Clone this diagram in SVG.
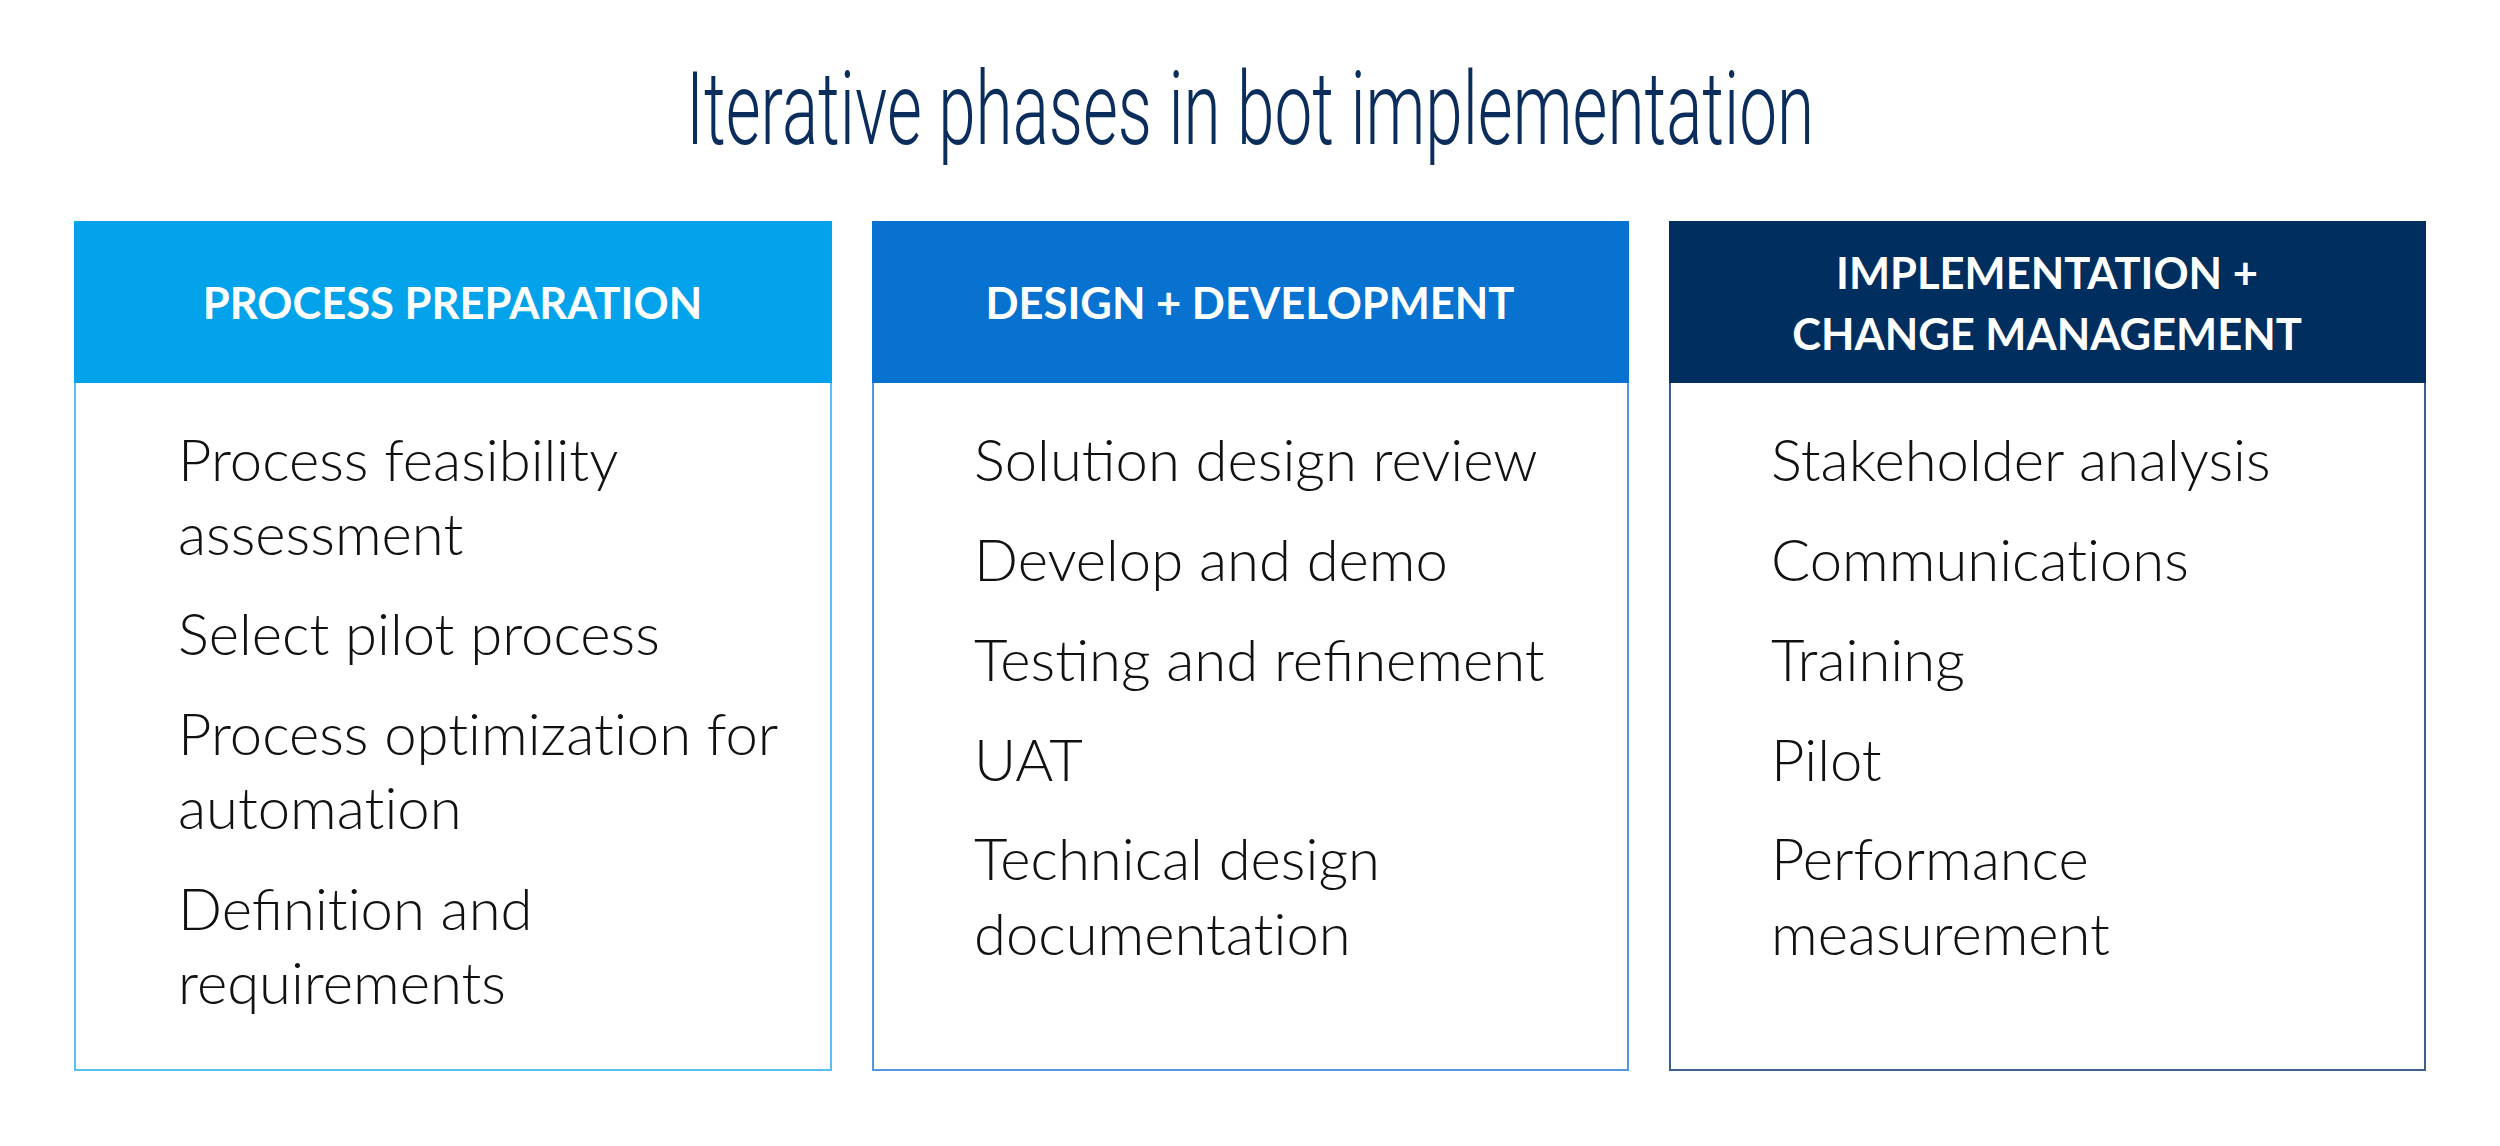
<svg xmlns="http://www.w3.org/2000/svg" width="2500" height="1146" viewBox="0 0 2500 1146">
<style>
.title{font-family:Roboto,"Liberation Sans",sans-serif;font-weight:300;font-size:102px;fill:#0b2d5c}
.hdr{font-family:Lato,"Liberation Sans",sans-serif;font-weight:700;font-size:43.5px;fill:#ffffff;text-anchor:middle}
.item{font-family:Lato,"Liberation Sans",sans-serif;font-weight:300;font-size:58px;fill:#111111}
.nl{font-variant-ligatures:none}
.body{fill:#ffffff;stroke-width:2}
</style>
<rect width="2500" height="1146" fill="#ffffff"/>
<text class="title" x="686" y="144" textLength="1128" lengthAdjust="spacingAndGlyphs">Iterative phases in bot implementation</text>
<g id="process-preparation">
<rect class="body" x="75" y="222" width="756" height="848" stroke="#5fbef0"/>
<rect x="74" y="221" width="758" height="162" fill="#02a3ea"/>
<text class="hdr" x="452.5" y="319">PROCESS PREPARATION</text>
<text class="item" x="178" y="481">Process feasibility</text>
<text class="item" x="178" y="555">assessment</text>
<text class="item" x="178" y="655">Select pilot process</text>
<text class="item nl" x="178" y="755">Process optimization for</text>
<text class="item nl" x="178" y="829">automation</text>
<text class="item" x="178" y="930">Defini<tspan class="nl">tion</tspan> and</text>
<text class="item" x="178" y="1004">requirements</text>
</g>
<g id="design-development">
<rect class="body" x="873" y="222" width="755" height="848" stroke="#5596de"/>
<rect x="872" y="221" width="757" height="162" fill="#0772cf"/>
<text class="hdr" x="1250" y="319">DESIGN + DEVELOPMENT</text>
<text class="item" x="974" y="481">Solution design review</text>
<text class="item" x="974" y="581">Develop and demo</text>
<text class="item" x="974" y="681">Testing and refinement</text>
<text class="item" x="974" y="781">UAT</text>
<text class="item" x="974" y="880">Technical design</text>
<text class="item nl" x="974" y="955">documentation</text>
</g>
<g id="implementation-change">
<rect class="body" x="1670" y="222" width="755" height="848" stroke="#3d5f8c"/>
<rect x="1669" y="221" width="757" height="162" fill="#002e5e"/>
<text class="hdr" x="2047" y="289">IMPLEMENTATION +</text>
<text class="hdr" x="2047" y="350">CHANGE MANAGEMENT</text>
<text class="item" x="1771" y="481">Stakeholder analysis</text>
<text class="item nl" x="1771" y="581">Communications</text>
<text class="item" x="1771" y="681">Training</text>
<text class="item" x="1771" y="781">Pilot</text>
<text class="item" x="1771" y="880">Performance</text>
<text class="item" x="1771" y="955">measurement</text>
</g>
<g id="connectors"/>
</svg>
